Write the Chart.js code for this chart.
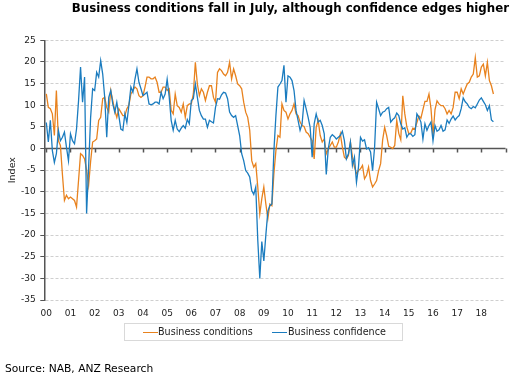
<!DOCTYPE html>
<html>
<head>
<meta charset="utf-8">
<title>Business conditions and confidence</title>
<script src="https://cdn.jsdelivr.net/npm/chart.js@4.4.1/dist/chart.umd.min.js"></script>
<style>
  html, body { margin:0; padding:0; background:#ffffff; }
  #wrap { position:relative; width:526px; height:383px; overflow:hidden; font-family:'DejaVu Sans', Verdana, sans-serif; }
  #chart { position:absolute; left:0; top:0; }
  #title { position:absolute; right:17px; top:1px; font-weight:bold; font-size:11.8px; line-height:14px; color:#000; white-space:nowrap; }
  #legend { position:absolute; left:124px; top:322.5px; width:277px; height:16px; border:1px solid #d9d9d9; }
  .lg-line { position:absolute; height:1.5px; width:15px; top:8px; }
  .lg-text { position:absolute; font-size:9.6px; line-height:17px; top:-0.5px; color:#222; white-space:nowrap; }
  #source { position:absolute; left:5px; top:362px; font-size:10.7px; line-height:13px; color:#000; white-space:nowrap; }
</style>
</head>
<body>
<div id="wrap">
  <canvas id="chart" width="526" height="383"></canvas>
  <div id="title">Business conditions fall in July, although confidence edges higher</div>
  <div id="legend"></div>
  <div id="source">Source: NAB, ANZ Research</div>
</div>
<script>
// ---- data (monthly, Jan 2000 – Jul 2018) ----
const yearTicks = ['00','01','02','03','04','05','06','07','08','09','10','11','12','13','14','15','16','17','18'];
const seriesNames = ['Business conditions', 'Business confidence'];
const seriesColors = ['#E8821E', '#1B7CBF'];

const conditions = [
  12.6, 9.5, 9.2, 8, 3, 13.4, 1.8, 0.7, -6, -12, -10.8, -11.6,
  -11.2, -11.6, -12, -13.5, -7.4, -1.2, -1.6, -2.4, -5, -8.5, -3, 1.5,
  1.8, 2.2, 6.5, 7.2, 11.5, 11.8, 9.5, 8.4, 13.4, 11, 8.8, 7.2,
  9.2, 8.4, 7.6, 7.6, 9.2, 10, 12.6, 13.4, 14.2, 13.8, 12.2, 11.8,
  12.2, 14.2, 16.5, 16.5, 16.1, 16.1, 16.5, 15.3, 13, 13, 14.2, 14.2,
  13.4, 13.8, 8.8, 8, 12.6, 9.9, 9.5, 8.4, 10.3, 7.2, 9.9, 10.3,
  10.3, 12.6, 19.9, 14.9, 12.2, 13.8, 13, 11.1, 13, 14.5, 14.5, 11.8,
  10.7, 17.6, 18.4, 18, 17.2, 16.8, 17.6, 19.9, 16.1, 18.4, 16.8, 14.9,
  14.5, 13.8, 10.7, 8.4, 7.2, 4.2, -2.8, -4.3, -3.5, -8.9, -15.1, -11.6,
  -8.9, -12.8, -16.2, -12.8, -13.2, -5.8, -0.5, 3, 2.6, 10.3, 8.8, 8.4,
  6.8, 8, 8.8, 10.3, 8, 7.6, 6.1, 5.3, 5.1, 3.8, 3.4, 2.6,
  1.8, -2.4, 4.9, 6.5, 3, 1.5, 2.2, -1.2, -0.1, 0.7, 1.5, 0.3,
  0.3, 1.5, 3.4, 0.3, -2, -2.4, -1.6, 1.5, -2, -4.3, -5.8, -5.1,
  -4.7, -3.9, -7, -6.2, -4.3, -7.4, -8.9, -8.2, -7.4, -5.1, -3.5, 2,
  4.9, 3, 0.5, 0.3, 0, 0.7, 6.5, 3.5, 2, 12.2, 8, 5,
  3.4, 3.6, 4.7, 4.5, 6, 7.5, 7, 9, 10.9, 10.9, 12.6, 9.2,
  3, 9, 11, 10.3, 9.9, 9.9, 9.2, 8, 8.8, 8, 9.5, 13,
  13, 11.5, 13.8, 12.6, 13.8, 14.9, 15.3, 16.5, 17.2, 21, 16.5, 16.8,
  18.8, 19.5, 16.8, 19.9, 15.7, 14.5, 12.6
];

const confidence = [
  6, 1.5, 6.5, -0.5, -3.2, -1.2, 4.2, 1.8, 2.6, 3.8, 0.3, -2.8,
  3.4, 1.8, 1.1, 4.5, 11, 18.8, 10.7, 16.5, -15, -4.3, 7.2, 13.8,
  13.4, 17.6, 16.5, 20.3, 17.2, 11.8, 2.6, 11.8, 13.4, 10.3, 8.4, 10.7,
  7.6, 4.5, 4.2, 8, 6, 10, 14.2, 13, 16, 18.4, 15.3, 13.8,
  12.2, 12.6, 13, 10.3, 10.1, 10.3, 10.7, 10.7, 10.3, 13, 11.5, 12.6,
  16, 12, 6.5, 4.2, 6.5, 4.5, 3.9, 4.7, 5.3, 4.7, 6.7, 5.7,
  11.1, 11.5, 14.9, 11.8, 8.8, 7.6, 6.8, 6.8, 4.9, 6.5, 6.2, 5.9,
  9.5, 11.5, 11.4, 12.4, 13, 12.8, 11.5, 8.4, 7.6, 7.2, 7.6, 5.3,
  3, -1.2, -2.8, -5.1, -5.7, -6.6, -9.7, -10.6, -8.9, -21.2, -30, -21.5,
  -26, -20, -14.5, -13.2, -12.8, -0.5, 7.6, 14.2, 14.9, 15.7, 19.2, 10.7,
  16.8, 16.5, 15.7, 13.4, 8.8, 6.5, 4.2, 5.7, 11.1, 9.2, 7.2, 4.9,
  -2, 5.7, 8, 6.1, 6.5, 5.3, 3.4, -6, -0.1, 2.6, 3.2, 2.8,
  2.2, 2.6, 3, 4, 1.8, -2.4, -1.2, 1.5, -3.9, -2, -7.8, -4.3,
  2.6, 1.7, 2, -0.1, 0.2, -0.8, -5.1, 0.3, 10.7, 9.2, 7.6, 8.4,
  8.6, 9.2, 9.5, 6.1, 6.7, 7.1, 8.2, 7.6, 5.7, 4.5, 4.8, 2.6,
  3.4, 3.4, 2.8, 3.2, 8, 7.2, 6.1, 2.2, 5.7, 4.2, 5.3, 6.1,
  1.8, 5.3, 4, 4.3, 5.3, 4, 4.3, 6.6, 5.8, 6.8, 7.5, 6.6,
  7.2, 7.6, 9.2, 11.7, 10.8, 10.3, 9.5, 9.2, 9.7, 9.4, 10.3, 11.2,
  11.7, 10.9, 10.1, 8.8, 9.9, 6.6, 6.2
];

const FONT = "'DejaVu Sans', Verdana, sans-serif";

// zero line with year tick marks, drawn from the scales
const zeroAxis = {
  id: 'zeroAxis',
  beforeDatasetsDraw(chart) {
    const {ctx, chartArea: a, scales: {x, y}} = chart;
    const y0 = y.getPixelForValue(0);
    ctx.save();
    ctx.strokeStyle = '#555555';
    ctx.lineWidth = 1.5;
    ctx.beginPath();
    ctx.moveTo(a.left, y0);
    ctx.lineTo(a.right, y0);
    for (let k = 0; k <= yearTicks.length; k++) {
      const px = Math.round(x.getPixelForValue(k * 12)) + 0.5;
      ctx.moveTo(px, y0);
      ctx.lineTo(px, y0 + 4);
    }
    ctx.stroke();
    ctx.restore();
  }
};

const toPoints = arr => arr.map((v, i) => ({x: i, y: v}));

const chart = new Chart(document.getElementById('chart'), {
  type: 'line',
  data: {
    datasets: [
      { label: seriesNames[0], data: toPoints(conditions), borderColor: seriesColors[0], backgroundColor: seriesColors[0],
        borderWidth: 1.3, pointRadius: 0, tension: 0, order: 1 },
      { label: seriesNames[1], data: toPoints(confidence), borderColor: seriesColors[1], backgroundColor: seriesColors[1],
        borderWidth: 1.3, pointRadius: 0, tension: 0, order: 0 }
    ]
  },
  options: {
    responsive: false,
    animation: false,
    events: [],
    layout: { padding: { top: 40.3, left: 6, right: 20.5, bottom: 63 } },
    plugins: { legend: { display: false }, tooltip: { enabled: false }, title: { display: false } },
    scales: {
      x: {
        type: 'linear', min: -1, max: 228,
        afterBuildTicks(s) { s.ticks = yearTicks.map((t, k) => ({ value: k * 12 })); },
        ticks: {
          autoSkip: false, maxRotation: 0, padding: 8.6, color: '#222',
          font: { family: FONT, size: 9 },
          callback: (v) => yearTicks[Math.round(v / 12)] ?? ''
        },
        grid: { display: false, drawTicks: false },
        border: { display: false },
        afterFit(s) { s.height = 20; }
      },
      y: {
        min: -35, max: 25,
        ticks: { stepSize: 5, padding: 4.5, color: '#222', font: { family: FONT, size: 9 } },
        grid: { color: '#cfcfcf', lineWidth: 1, drawTicks: true, tickLength: 4, tickColor: '#555555', tickWidth: 1 },
        border: { display: true, color: '#555555', width: 1.5, dash: [3, 2] },
        title: { display: true, text: 'Index', color: '#222', font: { family: FONT, size: 9.5 }, padding: { top: 1, bottom: 0 } },
        afterFit(s) { s.width = 38.3; }
      }
    }
  },
  plugins: [zeroAxis]
});

// legend built from the datasets
const legendEl = document.getElementById('legend');
const legendPos = [{ line: 18, text: 33 }, { line: 147, text: 163 }];
chart.data.datasets.forEach((ds, i) => {
  const ln = document.createElement('div');
  ln.className = 'lg-line';
  ln.style.left = legendPos[i].line + 'px';
  ln.style.background = ds.borderColor;
  legendEl.appendChild(ln);
  const tx = document.createElement('div');
  tx.className = 'lg-text';
  tx.style.left = legendPos[i].text + 'px';
  tx.textContent = ds.label;
  legendEl.appendChild(tx);
});
</script>
</body>
</html>
